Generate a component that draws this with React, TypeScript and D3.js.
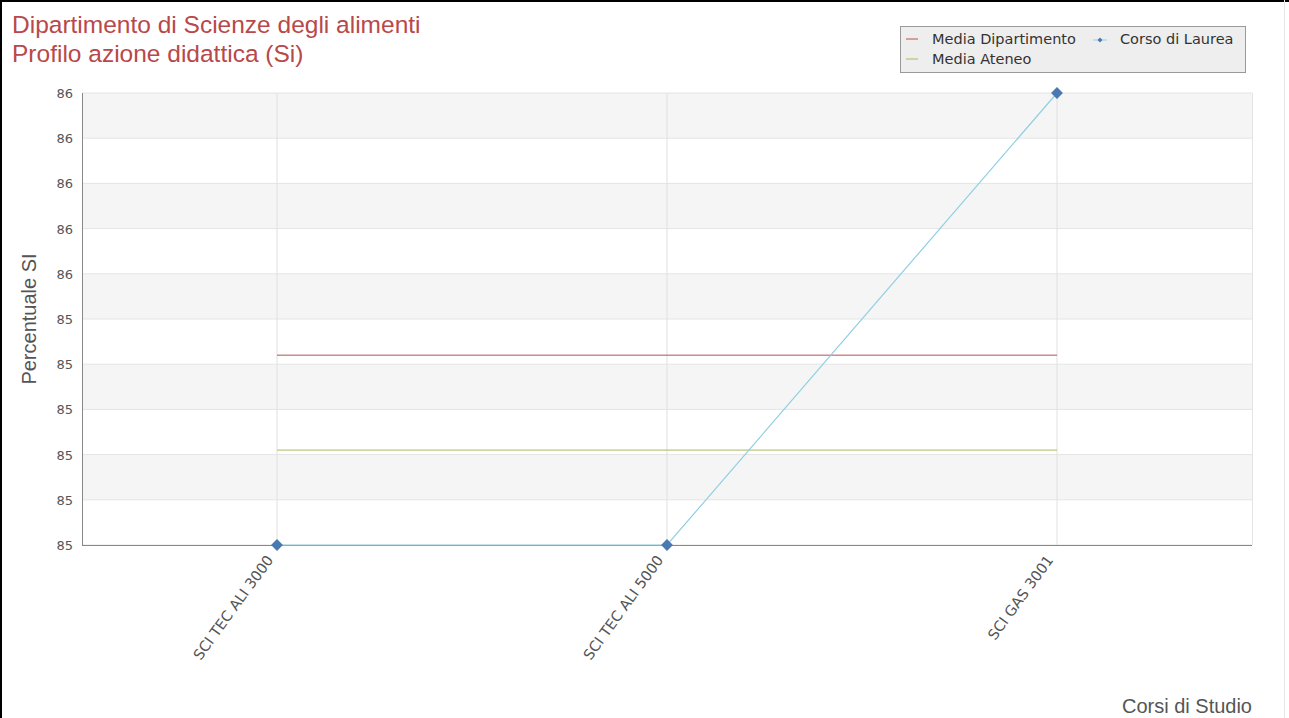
import React from "react";
import * as d3 from "d3";

const categories = ["SCI TEC ALI 3000", "SCI TEC ALI 5000", "SCI GAS 3001"];
const corsoValues = [85.0, 85.0, 86.0];
const mediaDipartimento = [85.42, 85.42, 85.42];
const mediaAteneo = [85.21, 85.21, 85.21];
const yTickValues = [85.0, 85.1, 85.2, 85.3, 85.4, 85.5, 85.6, 85.7, 85.8, 85.9, 86.0];
const yTickLabels = ["85", "85", "85", "85", "85", "85", "86", "86", "86", "86", "86"];

const W = 1289, H = 718;
const M = { left: 82, right: 1252, top: 93, bottom: 545 };

export default function App() {
  const x = d3.scaleBand<string>().domain(categories).range([M.left, M.right]).padding(0);
  const y = d3.scaleLinear().domain([85, 86]).range([M.bottom, M.top]);
  const cx = (c: string) => (x(c) as number) + x.bandwidth() / 2;
  const line = d3.line<number>().x((_, i) => cx(categories[i])).y((v) => y(v));
  const marker = d3.symbol().type(d3.symbolSquare).size(70)() as string;
  const legendMarker = d3.symbol().type(d3.symbolSquare).size(12)() as string;

  const bands = yTickValues.slice(0, -1).map((v, i) => ({ v, i, next: yTickValues[i + 1] }));
  const font = "'Liberation Sans', Arial, sans-serif";
  const tickFont = "'DejaVu Sans', sans-serif";

  return (
    <svg width={W} height={H} style={{ position: "absolute", left: 0, top: 0 }}>
      <rect x={0} y={0} width={W} height={H} fill="#fff" />
      <line x1={1} y1={0} x2={1} y2={H} stroke="#000" strokeWidth={2} />
      <line x1={0} y1={1} x2={W} y2={1} stroke="#000" strokeWidth={2} />
      <line x1={W - 4.5} y1={0} x2={W - 4.5} y2={H} stroke="#e6e6e6" strokeWidth={1} />
      <text x={12} y={33} fill="#b8484a" fontFamily={font} fontSize={24.5}>Dipartimento di Scienze degli alimenti</text>
      <text x={12} y={62} fill="#b8484a" fontFamily={font} fontSize={24.5}>Profilo azione didattica (Si)</text>

      {bands.map((b) => (
        <rect key={b.i} x={M.left} y={y(b.next)} width={M.right - M.left} height={y(b.v) - y(b.next)}
          fill={b.i % 2 === 1 ? "#f5f5f5" : "#ffffff"} />
      ))}
      {yTickValues.map((v, i) => (
        <g key={i}>
          <line x1={M.left} x2={M.right} y1={y(v)} y2={y(v)} stroke="#e4e4e4" />
          <text x={73} y={y(v) + 5} textAnchor="end" fill="#555" fontFamily={tickFont} fontSize={13}>{yTickLabels[i]}</text>
        </g>
      ))}
      <line x1={M.right + 0.5} x2={M.right + 0.5} y1={M.top} y2={M.bottom} stroke="#e4e4e4" />
      {categories.map((c) => (
        <line key={c} x1={cx(c)} x2={cx(c)} y1={M.top} y2={M.bottom} stroke="#e0e0e0" />
      ))}
      <line x1={M.left + 0.5} x2={M.left + 0.5} y1={M.top} y2={M.bottom} stroke="#888" />
      <line x1={M.left} x2={M.right} y1={M.bottom + 0.5} y2={M.bottom + 0.5} stroke="#888" />

      <path d={line(mediaDipartimento) as string} fill="none" stroke="#b4504f" strokeWidth={1} />
      <path d={line(mediaAteneo) as string} fill="none" stroke="#a9b85c" strokeWidth={1} />
      <path d={line(corsoValues) as string} fill="none" stroke="#8fcfe3" strokeWidth={1.2} />
      {corsoValues.map((v, i) => (
        <path key={i} d={marker} transform={`translate(${cx(categories[i])},${y(v)}) rotate(45)`} fill="#4a78b0" />
      ))}

      {categories.map((c) => (
        <text key={c} transform={`translate(${cx(c) - 3},${M.bottom + 15}) rotate(-54)`} textAnchor="end"
          fill="#555" fontFamily={tickFont} fontSize={14.5}>{c}</text>
      ))}

      <text transform={`translate(36,${(M.top + M.bottom) / 2}) rotate(-90)`} textAnchor="middle" fill="#555"
        fontFamily={font} fontSize={20}>Percentuale SI</text>
      <text x={M.right} y={713} textAnchor="end" fill="#555" fontFamily={font} fontSize={20}>Corsi di Studio</text>

      <g>
        <rect x={900.5} y={26.5} width={345} height={46} fill="#eeeeee" stroke="#999" />
        <line x1={906} x2={918} y1={39} y2={39} stroke="#b4504f" />
        <text x={932} y={44} fill="#333" fontFamily={tickFont} fontSize={14.5}>Media Dipartimento</text>
        <line x1={1093} x2={1107} y1={40} y2={40} stroke="#8fcfe3" />
        <path d={legendMarker} transform="translate(1100,40) rotate(45)" fill="#4a78b0" />
        <text x={1120} y={44} fill="#333" fontFamily={tickFont} fontSize={14.5}>Corso di Laurea</text>
        <line x1={906} x2={918} y1={59} y2={59} stroke="#a9b85c" />
        <text x={932} y={64} fill="#333" fontFamily={tickFont} fontSize={14.5}>Media Ateneo</text>
      </g>
    </svg>
  );
}
